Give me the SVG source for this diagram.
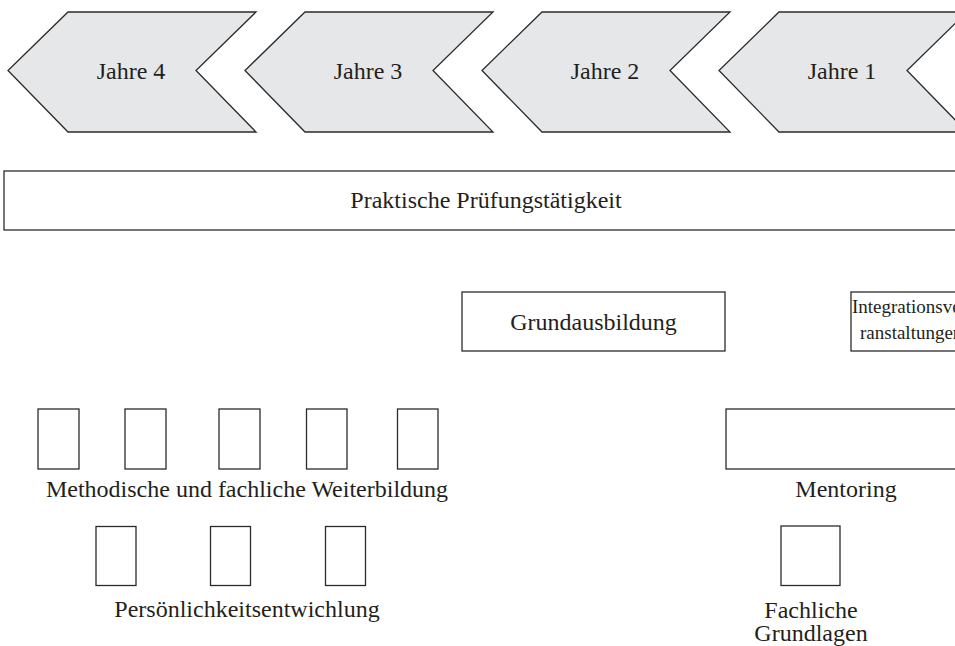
<svg xmlns="http://www.w3.org/2000/svg" width="955" height="646" viewBox="0 0 955 646">
<style>
.chev{fill:#e6e7e8;stroke:#2b2b2b;stroke-width:1.3}
.box{fill:#fff;stroke:#2b2b2b;stroke-width:1.3}
text{font-family:"Liberation Serif","Times New Roman",serif;fill:#231f20;font-size:24px}
.c{text-anchor:middle}
</style>
<rect width="955" height="646" fill="#fff"/>
<g id="jahre4"><polygon class="chev" points="68,12 256,12 196,70.5 256,132 68,132 8,70.5"/><text class="c" x="131" y="79">Jahre 4</text></g>
<g id="jahre3"><polygon class="chev" points="305,12 493,12 433,70.5 493,132 305,132 245,70.5"/><text class="c" x="368" y="79">Jahre 3</text></g>
<g id="jahre2"><polygon class="chev" points="542,12 730,12 670,70.5 730,132 542,132 482,70.5"/><text class="c" x="605" y="79">Jahre 2</text></g>
<g id="jahre1"><polygon class="chev" points="779,12 967,12 907,70.5 967,132 779,132 719,70.5"/><text class="c" x="842" y="79">Jahre 1</text></g>
<g id="praxis"><rect class="box" x="4" y="171" width="960" height="59"/><text class="c" x="486" y="208">Praktische Prüfungstätigkeit</text></g>
<g id="grundausbildung"><rect class="box" x="462" y="292" width="263" height="59"/><text class="c" x="593.5" y="330">Grundausbildung</text></g>
<g id="integration"><rect class="box" x="851" y="292" width="120" height="59"/><text x="852" y="313" font-size="19" style="font-size:19px">Integrationsve</text><text x="860" y="339" style="font-size:19px">ranstaltungen</text></g>
<g id="weiterbildung">
<rect class="box" x="38" y="409" width="41" height="60"/>
<rect class="box" x="125" y="409" width="41" height="60"/>
<rect class="box" x="219" y="409" width="41" height="60"/>
<rect class="box" x="306.5" y="409" width="40.5" height="60"/>
<rect class="box" x="397.5" y="409" width="40.5" height="60"/>
<text class="c" x="247" y="497">Methodische und fachliche Weiterbildung</text>
</g>
<g id="persoenlichkeit">
<rect class="box" x="96" y="526.5" width="40" height="59"/>
<rect class="box" x="210.5" y="526.5" width="40" height="59"/>
<rect class="box" x="325.5" y="526.5" width="40" height="59"/>
<text class="c" x="247" y="617">Persönlichkeitsentwichlung</text>
</g>
<g id="mentoring"><rect class="box" x="726" y="409" width="240" height="60"/><text class="c" x="846" y="497">Mentoring</text></g>
<g id="grundlagen"><rect class="box" x="781" y="526" width="59" height="59.5"/><text class="c" x="811" y="618">Fachliche</text><text class="c" x="811" y="641">Grundlagen</text></g>
<g id="connectors"></g>
</svg>
